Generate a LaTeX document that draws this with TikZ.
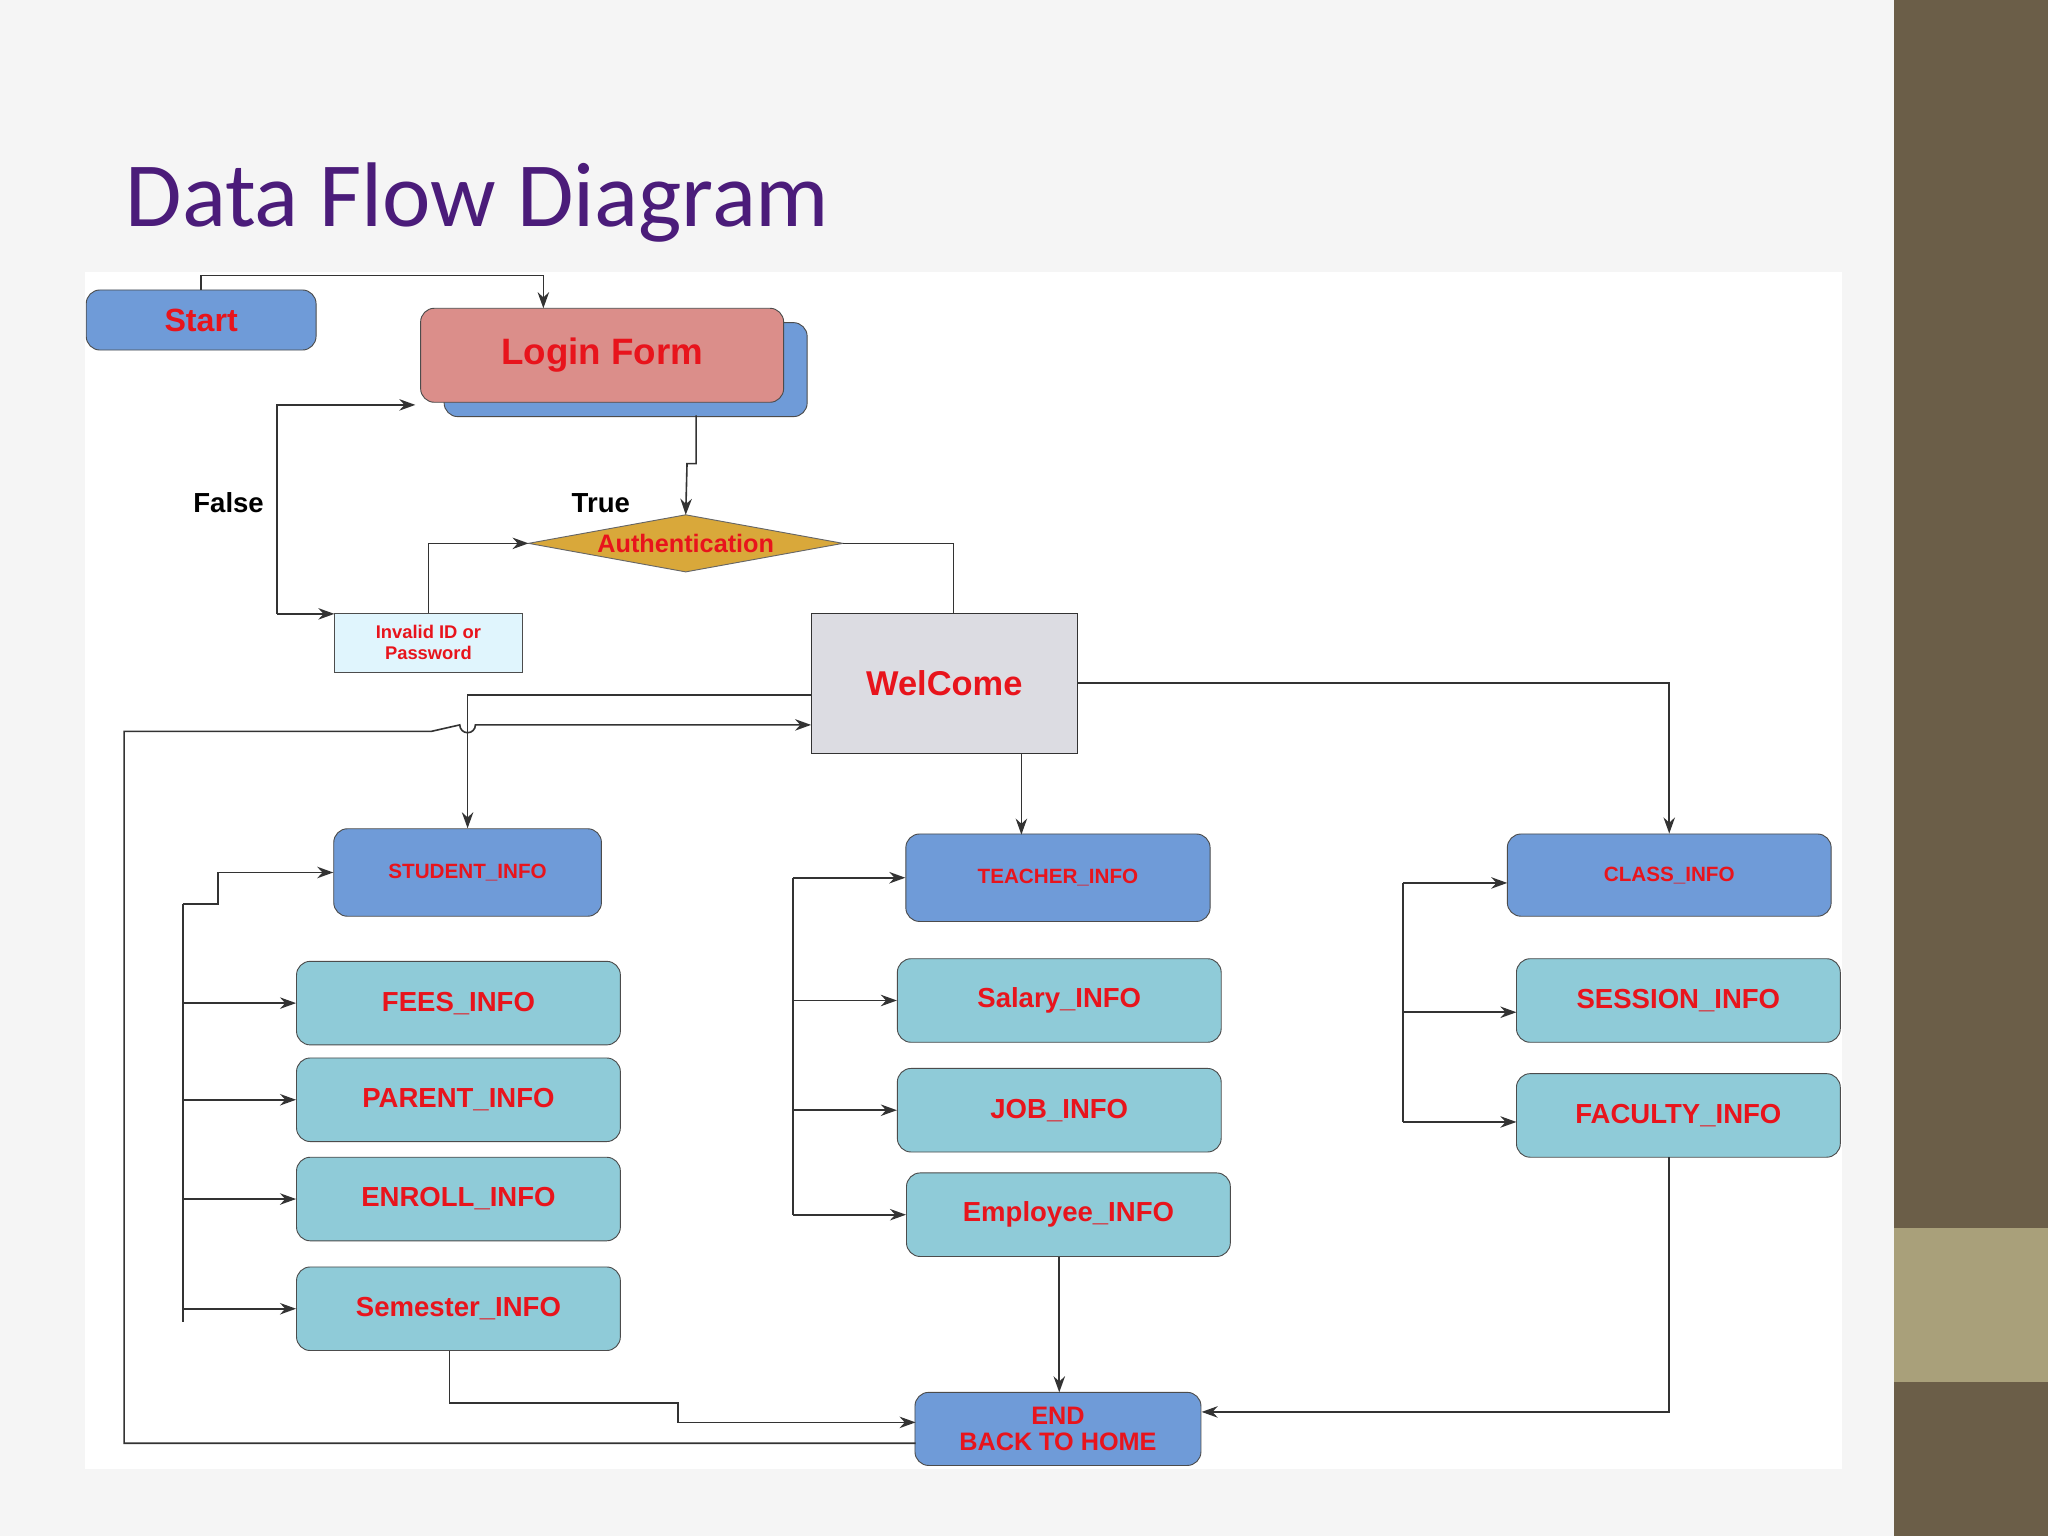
\documentclass[tikz,border=0pt]{standalone}
\usepackage{fontspec}
\setmainfont{Liberation Sans}
\newfontfamily\titlefont{Carlito}
\usetikzlibrary{arrows.meta}
\definecolor{dkblue}{HTML}{6F9BD8}
\definecolor{teal}{HTML}{8FCBD8}
\definecolor{txtred}{HTML}{E8141C}
\definecolor{olive}{HTML}{6B5E48}
\definecolor{lolive}{HTML}{A9A07A}
\definecolor{ttl}{HTML}{4B1C7A}
\definecolor{pinkbox}{HTML}{DB8E8A}
\definecolor{gold}{HTML}{D9A83A}
\tikzset{
 bx/.style={draw=black!70,rounded corners=6pt,inner sep=0pt,text=txtred,font=\bfseries\fontsize{12}{13}\selectfont,align=center},
 blu/.style={bx,fill=dkblue},
 tea/.style={bx,fill=teal,minimum width=4.96cm,minimum height=1.28cm},
 small/.style={font=\bfseries\fontsize{9}{10}\selectfont},
 ln/.style={draw=black!80,line width=0.7pt},
 ar/.style={ln,-{Stealth[length=7pt,width=5pt]}}
}
\begin{document}
\begin{tikzpicture}[x=0.02cm,y=-0.02cm]
\useasboundingbox (0,0) rectangle (1568,1176);
\fill[black!4] (0,0) rectangle (1568,1176);
\fill[olive] (1450,0) rectangle (1568,1176);
\fill[lolive] (1450,940) rectangle (1568,1058);
\fill[white] (65,208) rectangle (1410,1125);
\node[text=ttl,font=\titlefont\fontsize{40}{44}\selectfont,anchor=west] (title) at (90,155) {Data Flow Diagram};

\node[blu,minimum width=3.52cm,minimum height=0.92cm,font=\bfseries\fontsize{14}{15}\selectfont] (start) at (154,245) {Start};
\node[bx,fill=dkblue,minimum width=5.56cm,minimum height=1.44cm] (shadow) at (479,283) {};
\node[bx,fill=pinkbox,minimum width=5.56cm,minimum height=1.44cm,font=\bfseries\fontsize{16}{17}\selectfont] (login) at (461,272) {Login Form};
\node[minimum width=4.8cm,minimum height=0.86cm,inner sep=0pt] (auth) at (525,416) {};
\fill[draw=black!60,fill=gold] (auth.west)--(auth.north)--(auth.east)--(auth.south)--cycle;
\node[text=txtred,font=\bfseries\fontsize{11}{12}\selectfont] at (auth) {Authentication};
\node[font=\bfseries\fontsize{12}{13}\selectfont] (true) at (460,385) {True};
\node[font=\bfseries\fontsize{12}{13}\selectfont] (false) at (175,385) {False};
\node[draw=black!70,fill=cyan!12,inner sep=0pt,minimum width=2.88cm,minimum height=0.9cm,text=txtred,align=center,font=\bfseries\fontsize{8}{9}\selectfont] (inv) at (328,492) {Invalid ID or\\Password};
\node[draw=black!80,fill=blue!10!gray!25,inner sep=0pt,minimum width=4.08cm,minimum height=2.14cm,text=txtred,font=\bfseries\fontsize{15}{16}\selectfont] (wel) at (723,523) {WelCome};

\node[blu,small,minimum width=4.1cm,minimum height=1.34cm] (stu) at (358,668) {STUDENT\_INFO};
\node[blu,small,minimum width=4.66cm,minimum height=1.34cm] (tch) at (810,672) {TEACHER\_INFO};
\node[blu,small,minimum width=4.96cm,minimum height=1.26cm] (cls) at (1278,670) {CLASS\_INFO};
\node[tea] (fees) at (351,768) {FEES\_INFO};
\node[tea] (par) at (351,842) {PARENT\_INFO};
\node[tea] (enr) at (351,918) {ENROLL\_INFO};
\node[tea] (sem) at (351,1002) {Semester\_INFO};
\node[tea] (sal) at (811,766) {Salary\_INFO};
\node[tea] (job) at (811,850) {JOB\_INFO};
\node[tea] (emp) at (818,930) {Employee\_INFO};
\node[tea] (ses) at (1285,766) {SESSION\_INFO};
\node[tea] (fac) at (1285,854) {FACULTY\_INFO};
\node[blu,minimum width=4.38cm,minimum height=1.12cm,font=\bfseries\fontsize{11}{11}\selectfont] (end) at (810,1094) {END\\BACK TO HOME};

% connectors
\draw[ar] (start.north) -- (154,211) -| (416,236);
\draw[ar] (533,318) -- (533,355) -- (526,355) -- (auth.north);
\draw[ln] (auth.east) -| (730,470);
\draw[ar] (inv.north) |- (auth.west);
\coordinate (f1) at (212,470);
\draw[ar] (f1) -- (256,470);
\draw[ar] (f1) |- (318,310);
\draw[ar] (621,532) -| (stu.north);
\draw[ar] (701,1105) -| (95,560) -- (330,560) -- (352,555) arc (180:0:6) -- (621,555);
\draw[ar] (782,577) -- (782,639);
\draw[ar] (825,523) -| (cls.north);
% student bus
\draw[ln] (140,692) -- (140,1012);
\draw[ar] (140,692) -- (167,692) |- (stu.west);
\foreach \n in {fees,par,enr,sem} \draw[ar] (140,0 |- \n.west) -- (\n.west);
% teacher bus
\draw[ln] (607,672) -- (607,930);
\foreach \n in {tch,sal,job,emp} \draw[ar] (607,0 |- \n.west) -- (\n.west);
% class bus
\draw[ln] (1074,676) -- (1074,859);
\draw[ar] (1074,676) -- (1154,676);
\draw[ar] (1074,775) -- (1161,775);
\draw[ar] (1074,859) -- (1161,859);
\draw[ar] (344,1034) -- (344,1074) -- (519,1074) -- (519,1089) -- (701,1089);
\draw[ar] (811,962) -- (811,1066);
\draw[ar] (1278,886) -- (1278,1081) -- (920,1081);
\end{tikzpicture}
\end{document}
